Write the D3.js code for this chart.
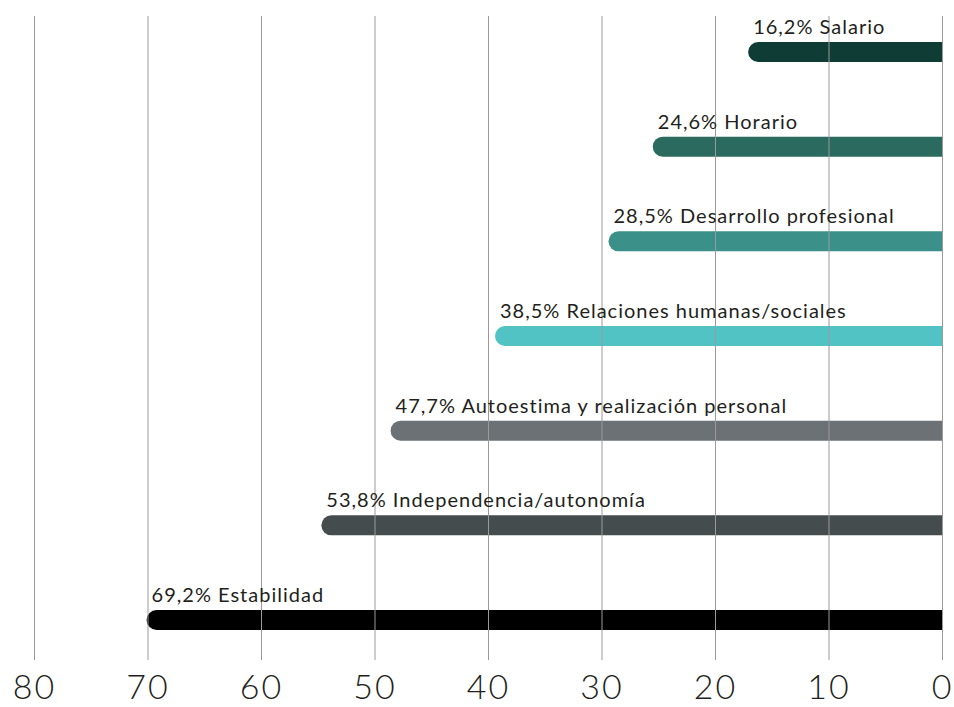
<!DOCTYPE html>
<html>
<head>
<meta charset="utf-8">
<script src="https://cdn.jsdelivr.net/npm/d3@7"></script>
<style>
  body { margin: 0; background: #fff; }
  svg { display: block; }
</style>
</head>
<body>
<svg></svg>
<script>
const categories = ['Salario', 'Horario', 'Desarrollo profesional', 'Relaciones humanas/sociales',
  'Autoestima y realización personal', 'Independencia/autonomía', 'Estabilidad']
const values = [16.2, 24.6, 28.5, 38.5, 47.7, 53.8, 69.2]
const colors = ['#0f3d36', '#2a6a5f', '#3b918a', '#52c3c4', '#6c7176', '#454c4e', '#000000']
const ticks = [80, 70, 60, 50, 40, 30, 20, 10, 0]

const width = 954
const height = 707
const barHeight = 20
const r = barHeight / 2

const svg = d3.select('svg')
              .attr('width', width)
              .attr('height', height)

const xScale = d3.scaleLinear()
                 .domain([80, 0])
                 .range([34, 942])
const yScale = d3.scalePoint()
                 .domain(categories)
                 .range([52, 620])

const data = categories.map((c, i) => ({ name: c, value: values[i], color: colors[i] }))
const fmt = v => v.toFixed(1).replace('.', ',')

// bars: rounded on the left, flat at zero
svg.append('g')
   .selectAll('path.bar')
   .data(data)
   .join('path')
   .classed('bar', true)
   .attr('fill', d => d.color)
   .attr('d', d => {
     const x0 = xScale(d.value)
     const x1 = xScale(0)
     const y = yScale(d.name)
     return `M${x1},${y - r}L${x0},${y - r}A${r},${r} 0 0 0 ${x0},${y + r}L${x1},${y + r}Z`
   })

// gridlines on top of bars
const xAxis = d3.axisBottom(xScale)
                .tickValues(ticks)
                .tickSize(-(660 - 16))
                .tickFormat(d => d)

const axis = svg.append('g')
   .attr('transform', 'translate(0, 660)')
   .call(xAxis)
axis.select('.domain').remove()
axis.selectAll('.tick line')
    .attr('stroke', '#9a9a9a')
    .attr('stroke-width', 1)
axis.selectAll('.tick text')
    .attr('y', 39)
    .attr('dy', 0)
    .attr('fill', '#231f20')
    .style('font-family', 'Lato, sans-serif')
    .style('font-weight', 300)
    .style('font-size', '34px')
    .style('letter-spacing', '2px')

svg.append('g')
   .selectAll('text.label')
   .data(data)
   .join('text')
   .classed('label', true)
   .attr('x', d => xScale(d.value) - 5)
   .attr('y', d => yScale(d.name) - 18)
   .attr('fill', '#231f20')
   .style('font-family', 'Lato, sans-serif')
   .style('font-size', '20px')
   .style('letter-spacing', '1px')
   .text(d => `${fmt(d.value)}% ${d.name}`)
</script>
</body>
</html>
